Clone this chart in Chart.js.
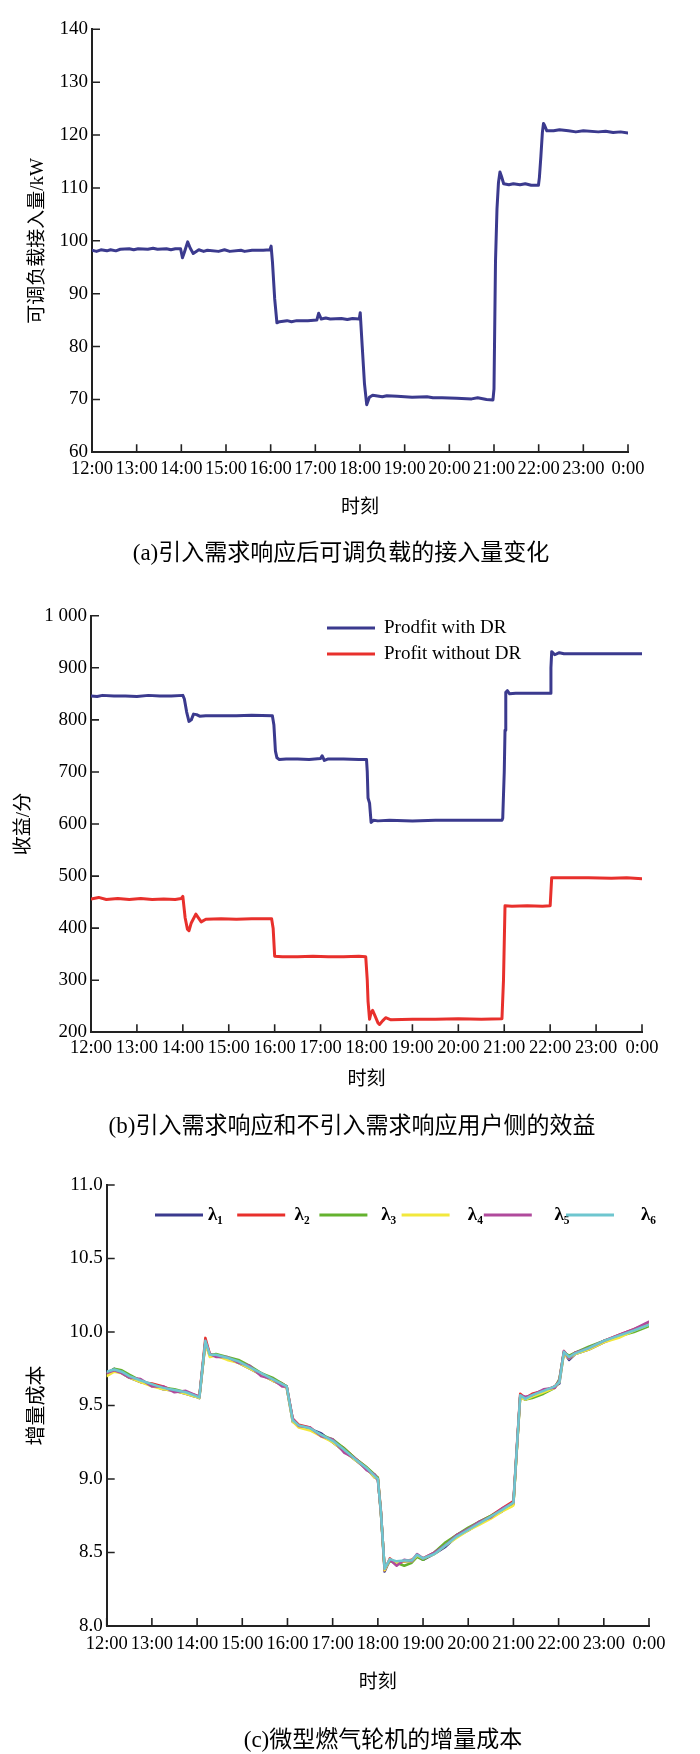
<!DOCTYPE html>
<html lang="zh-CN">
<head>
<meta charset="utf-8">
<title>需求响应仿真结果</title>
<script src="https://cdn.jsdelivr.net/npm/chart.js@4.4.1/dist/chart.umd.min.js"></script>
<style>
  body { margin: 0; background: #fff; }
  #page { position: relative; width: 700px; height: 1754px; background: #fff; }
  #page canvas { position: absolute; left: 0; }
  .caption {
    position: absolute; width: 600px; text-align: center; white-space: nowrap;
    font: 23px/30px "Liberation Serif", "Noto Sans CJK SC", serif; color: #000;
  }
</style>
</head>
<body>
<div id="page">
  <canvas id="loadChart" width="700" height="580" style="top:0"></canvas>
  <div class="caption" style="left:41px; top:538px">(a)引入需求响应后可调负载的接入量变化</div>
  <canvas id="profitChart" width="700" height="570" style="top:580px"></canvas>
  <div class="caption" style="left:52px; top:1111px">(b)引入需求响应和不引入需求响应用户侧的效益</div>
  <canvas id="costChart" width="700" height="604" style="top:1150px"></canvas>
  <div class="caption" style="left:83px; top:1725px">(c)微型燃气轮机的增量成本</div>
</div>

<script>
// x axis: minutes after 12:00
const hourLabels = ['12:00', '13:00', '14:00', '15:00', '16:00', '17:00', '18:00',
  '19:00', '20:00', '21:00', '22:00', '23:00', '0:00'];

const loadTicks = ['60', '70', '80', '90', '100', '110', '120', '130', '140'];
const profitTicks = ['200', '300', '400', '500', '600', '700', '800', '900', '1 000'];
const costTicks = ['8.0', '8.5', '9.0', '9.5', '10.0', '10.5', '11.0'];

// (a) adjustable load connected, [minute, kW]
const loadPoints = [
  [0, 98.2], [6, 98.0], [12, 98.3], [20, 98.1], [25, 98.3], [32, 98.1], [38, 98.4],
  [50, 98.5], [56, 98.3], [62, 98.5], [75, 98.4], [82, 98.6], [88, 98.4], [100, 98.5],
  [106, 98.3], [112, 98.5], [119, 98.5], [121.5, 96.8], [124, 97.8],
  [128.5, 99.8], [132, 98.6], [136, 97.6], [143.5, 98.3], [150, 98.0], [155, 98.2], [170, 98.0],
  [178, 98.3], [185, 98.0], [200, 98.2], [205, 98.0], [215, 98.2], [230, 98.2], [239, 98.3], [240.6, 99.0],
  [242.4, 96.0], [245.4, 89.0], [248.4, 84.5], [252, 84.7], [262, 84.9], [268, 84.7], [275, 84.9],
  [290, 84.9], [302, 85.0], [304.5, 86.3], [308, 85.2], [314, 85.4], [320, 85.2], [335, 85.3],
  [343, 85.1], [350, 85.3], [359, 85.2], [360.3, 86.4], [363, 80.0], [366, 73.0], [369, 69.0],
  [372.6, 70.4], [377, 70.8], [390, 70.5], [396, 70.7], [410, 70.6], [430, 70.4], [450, 70.5],
  [458, 70.3], [470, 70.3], [490, 70.2], [510, 70.1], [518, 70.3], [530, 70.0], [538.6, 69.9], [540, 72.0],
  [542, 96.0], [544, 106.0], [546, 111.0], [548, 113.0], [550, 112.2], [553, 110.8],
  [560, 110.6], [566, 110.8], [575, 110.6], [582, 110.8], [590, 110.5], [599.7, 110.5], [601, 112.0], [603, 116.0],
  [605, 120.5], [606.5, 122.2], [608, 121.8], [611, 120.8], [620, 120.8], [628, 121.0], [640, 120.8],
  [650, 120.6], [660, 120.8], [680, 120.6], [690, 120.7], [700, 120.5], [710, 120.6], [720, 120.4]
];

// (b) user side profit, [minute, value]
const profitWithDR = [
  [0, 846], [8, 845], [15, 847], [30, 846], [45, 846], [60, 845], [75, 847], [90, 846], [105, 846],
  [120, 847], [122, 840], [125, 815], [128, 797], [131, 800], [134, 811], [138, 810],
  [142, 807], [150, 808], [170, 808], [190, 808], [210, 809], [237, 808], [239, 790],
  [241, 740], [243, 727], [246, 724], [255, 725], [270, 725], [285, 724], [300, 726],
  [302, 731], [305, 722], [310, 725], [330, 725], [350, 724], [360, 724], [361, 700],
  [362, 650], [364, 640], [366, 603], [369, 607], [375, 606], [390, 607], [420, 606],
  [450, 607], [480, 607], [510, 607], [537, 607], [538, 611], [540, 700], [541, 780],
  [542, 853], [544, 856], [547, 850], [555, 851], [575, 851], [590, 851], [600, 851],
  [601, 900], [602, 931], [606, 925], [612, 929], [618, 927], [640, 927], [680, 927],
  [720, 927]
];
const profitWithoutDR = [
  [0, 456], [10, 459], [20, 455], [35, 457], [50, 455], [65, 457], [80, 455], [95, 456],
  [110, 455], [118, 457], [120, 461], [123, 420], [126, 398], [128, 395], [131, 410],
  [137, 427], [144, 412], [150, 417], [170, 418], [190, 417], [210, 418], [236, 418],
  [238, 400], [240, 346], [250, 345], [270, 345], [290, 346], [310, 345], [330, 345],
  [350, 346], [359, 345], [361, 300], [362, 260], [364, 225], [366, 238], [368, 242],
  [371, 232], [375, 218], [377, 215], [381, 222], [385, 228], [392, 224], [420, 225],
  [450, 225], [480, 226], [510, 225], [537, 226], [539, 300], [541, 443], [550, 442],
  [570, 443], [590, 442], [600, 443], [602, 497], [620, 497], [650, 497], [680, 496],
  [700, 497], [720, 495]
];

// (c) incremental cost of the micro turbines, shared time grid
const costTimes = [
  0, 10, 20, 30, 45, 60, 75, 90, 105, 118,
  123, 131, 137, 145, 160, 175, 190, 205, 220, 233,
  239, 247, 255, 270, 285, 300, 315, 330, 345, 356,
  360, 364, 369, 376, 385, 395, 405, 412, 420, 435,
  450, 465, 480, 495, 510, 525, 537, 540, 545, 549,
  556, 565, 580, 595, 601, 607, 614, 622, 640, 660,
  680, 700, 720
];
const lambda1 = [
  9.72, 9.75, 9.72, 9.69, 9.66, 9.64, 9.61, 9.60, 9.58, 9.56,
  9.55, 9.93, 9.84, 9.84, 9.82, 9.79, 9.75, 9.71, 9.67, 9.64,
  9.62, 9.39, 9.36, 9.34, 9.31, 9.25, 9.19, 9.13, 9.07, 9.01,
  9.00, 8.77, 8.37, 8.45, 8.43, 8.44, 8.44, 8.48, 8.45, 8.49,
  8.54, 8.61, 8.65, 8.70, 8.74, 8.78, 8.83, 8.83, 9.24, 9.56,
  9.54, 9.57, 9.59, 9.63, 9.65, 9.86, 9.81, 9.85, 9.88, 9.93,
  9.97, 10.01, 10.05
];
const lambda2 = [
  9.72, 9.74, 9.73, 9.70, 9.66, 9.65, 9.63, 9.60, 9.59, 9.57,
  9.56, 9.96, 9.85, 9.84, 9.82, 9.80, 9.76, 9.72, 9.68, 9.65,
  9.63, 9.41, 9.37, 9.35, 9.29, 9.26, 9.21, 9.14, 9.08, 9.02,
  9.01, 8.79, 8.38, 8.46, 8.42, 8.44, 8.45, 8.48, 8.46, 8.50,
  8.56, 8.62, 8.66, 8.71, 8.75, 8.80, 8.84, 8.85, 9.26, 9.58,
  9.55, 9.58, 9.60, 9.63, 9.67, 9.87, 9.83, 9.86, 9.89, 9.94,
  9.98, 10.02, 10.06
];
const lambda3 = [
  9.71, 9.75, 9.74, 9.71, 9.67, 9.64, 9.62, 9.61, 9.59, 9.56,
  9.56, 9.93, 9.84, 9.85, 9.83, 9.81, 9.77, 9.72, 9.69, 9.65,
  9.63, 9.40, 9.36, 9.34, 9.30, 9.27, 9.21, 9.14, 9.08, 9.03,
  9.01, 8.78, 8.39, 8.44, 8.43, 8.41, 8.43, 8.47, 8.45, 8.50,
  8.57, 8.62, 8.67, 8.71, 8.75, 8.79, 8.82, 8.83, 9.24, 9.56,
  9.54, 9.55, 9.58, 9.62, 9.68, 9.86, 9.84, 9.86, 9.90, 9.94,
  9.97, 10.00, 10.04
];
const lambda4 = [
  9.70, 9.73, 9.72, 9.69, 9.66, 9.63, 9.61, 9.60, 9.58, 9.56,
  9.55, 9.92, 9.83, 9.84, 9.81, 9.79, 9.75, 9.71, 9.67, 9.64,
  9.62, 9.39, 9.35, 9.33, 9.29, 9.25, 9.19, 9.13, 9.07, 9.01,
  9.00, 8.77, 8.38, 8.45, 8.43, 8.44, 8.44, 8.48, 8.46, 8.49,
  8.55, 8.60, 8.65, 8.69, 8.73, 8.78, 8.81, 8.82, 9.23, 9.55,
  9.54, 9.56, 9.59, 9.62, 9.66, 9.85, 9.82, 9.85, 9.88, 9.93,
  9.96, 10.01, 10.05
];
const lambda5 = [
  9.72, 9.74, 9.72, 9.69, 9.68, 9.63, 9.63, 9.59, 9.60, 9.57,
  9.56, 9.94, 9.85, 9.83, 9.83, 9.79, 9.77, 9.70, 9.68, 9.63,
  9.63, 9.41, 9.36, 9.35, 9.29, 9.27, 9.18, 9.14, 9.06, 9.03,
  8.99, 8.78, 8.39, 8.45, 8.41, 8.45, 8.44, 8.49, 8.46, 8.50,
  8.55, 8.62, 8.66, 8.71, 8.74, 8.80, 8.83, 8.84, 9.25, 9.57,
  9.56, 9.57, 9.61, 9.62, 9.67, 9.87, 9.82, 9.86, 9.89, 9.94,
  9.98, 10.02, 10.07
];
const lambda6 = [
  9.73, 9.745, 9.73, 9.70, 9.67, 9.645, 9.62, 9.605, 9.59, 9.565,
  9.555, 9.94, 9.845, 9.845, 9.825, 9.80, 9.76, 9.72, 9.68, 9.645,
  9.63, 9.40, 9.365, 9.345, 9.30, 9.26, 9.20, 9.135, 9.075, 9.02,
  9.00, 8.78, 8.39, 8.455, 8.44, 8.445, 8.445, 8.485, 8.46, 8.49,
  8.55, 8.61, 8.655, 8.70, 8.745, 8.79, 8.83, 8.84, 9.25, 9.57,
  9.545, 9.57, 9.60, 9.63, 9.66, 9.865, 9.83, 9.855, 9.89, 9.94,
  9.975, 10.01, 10.05
];

const lambdaNames = ['λ₁', 'λ₂', 'λ₃', 'λ₄', 'λ₅', 'λ₆'];
const lambdaColors = ['#3b3a8e', '#e8302c', '#64b22e', '#f2e83c', '#b04a9c', '#6ec6cf'];

Chart.defaults.font.family = '"Liberation Serif", "Noto Sans CJK SC", serif';
Chart.defaults.color = '#000';

// tick marks pointing into the plot, like the original figure
const insideTicks = {
  id: 'insideTicks',
  beforeDatasetsDraw(chart, args, opts) {
    const { ctx, chartArea, scales } = chart;
    ctx.save();
    ctx.strokeStyle = opts.color;
    ctx.lineWidth = opts.width;
    ctx.beginPath();
    scales.x.ticks.forEach((t, i) => {
      const px = scales.x.getPixelForTick(i);
      ctx.moveTo(px, chartArea.bottom);
      ctx.lineTo(px, chartArea.bottom - opts.length);
    });
    scales.y.ticks.forEach((t, i) => {
      const py = scales.y.getPixelForTick(i);
      ctx.moveTo(chartArea.left, py);
      ctx.lineTo(chartArea.left + opts.length, py);
    });
    ctx.stroke();
    ctx.restore();
  }
};

// legend drawn inside the plot area
const lineLegend = {
  id: 'lineLegend',
  afterDatasetsDraw(chart, args, opts) {
    if (!opts.x) return;
    const ctx = chart.ctx;
    ctx.save();
    ctx.font = opts.font;
    ctx.fillStyle = '#000';
    ctx.textBaseline = 'middle';
    chart.data.datasets.forEach((ds, i) => {
      const lx = opts.x + i * (opts.dx || 0);
      const ly = opts.y + i * (opts.dy || 0);
      ctx.strokeStyle = ds.borderColor;
      ctx.lineWidth = opts.lineWidth;
      ctx.beginPath();
      ctx.moveTo(lx, ly);
      ctx.lineTo(lx + opts.length, ly);
      ctx.stroke();
      ctx.fillText(ds.label, opts.labelX + i * (opts.labelDx || 0), ly);
    });
    ctx.restore();
  }
};

Chart.register(insideTicks, lineLegend);

function toXY(points) {
  return points.map(p => ({ x: p[0], y: p[1] }));
}

function timeChart(canvasId, datasets, cfg) {
  return new Chart(document.getElementById(canvasId), {
    type: 'line',
    data: { datasets: datasets },
    options: {
      responsive: false,
      animation: false,
      layout: { padding: { top: cfg.top, right: cfg.right, bottom: 0, left: 0 } },
      elements: {
        point: { radius: 0 },
        line: { tension: 0, borderJoinStyle: 'round', borderCapStyle: 'round' }
      },
      plugins: {
        legend: { display: false },
        tooltip: { enabled: false },
        insideTicks: { length: 8, color: '#222', width: 1.6 },
        lineLegend: cfg.legend || {}
      },
      scales: {
        x: {
          type: 'linear',
          min: 0,
          max: 720,
          grid: { display: false, drawTicks: false },
          border: { display: true, color: '#222', width: 2 },
          ticks: {
            stepSize: 60,
            autoSkip: false,
            maxRotation: 0,
            padding: cfg.xPad,
            font: { size: 18.5 },
            callback: (v) => hourLabels[Math.round(v / 60)]
          },
          title: { display: true, text: '时刻', font: { size: 19 }, padding: { top: 0, bottom: cfg.xTitlePad } },
          afterFit: (s) => { s.height = cfg.xHeight; }
        },
        y: {
          type: 'linear',
          min: cfg.yMin,
          max: cfg.yMax,
          grid: { display: false, drawTicks: false },
          border: { display: true, color: '#222', width: 2 },
          ticks: {
            stepSize: cfg.yStep,
            padding: 4,
            font: { size: 19 },
            callback: (v, i) => cfg.yLabels[i]
          },
          title: { display: true, text: cfg.yTitle, font: { size: cfg.yTitleSize }, padding: { top: cfg.yTitlePad, bottom: 0 } },
          afterFit: (s) => { s.width = cfg.yWidth; }
        }
      }
    }
  });
}

timeChart('loadChart', [{
  label: '可调负载接入量',
  data: toXY(loadPoints),
  borderColor: '#3b3a8e',
  borderWidth: 3
}], {
  top: 29.3, right: 72, yWidth: 92, xHeight: 127.7, xPad: 5.5, xTitlePad: 60.6,
  yMin: 60, yMax: 140, yStep: 10, yLabels: loadTicks,
  yTitle: '可调负载接入量/kW', yTitleSize: 19, yTitlePad: 26.6
});

timeChart('profitChart', [{
  label: 'Prodfit with DR',
  data: toXY(profitWithDR),
  borderColor: '#3b3a8e',
  borderWidth: 3
}, {
  label: 'Profit without DR',
  data: toXY(profitWithoutDR),
  borderColor: '#e8302c',
  borderWidth: 3
}], {
  top: 35.7, right: 58, yWidth: 91, xHeight: 117.7, xPad: 4.5, xTitlePad: 58.6,
  yMin: 200, yMax: 1000, yStep: 100, yLabels: profitTicks,
  yTitle: '收益/分', yTitleSize: 19, yTitlePad: 12.6,
  legend: { x: 327, y: 48, dy: 26, length: 48, lineWidth: 3, labelX: 384, font: '19px "Liberation Serif", serif' }
});

const lambdaSeries = [lambda1, lambda2, lambda3, lambda4, lambda5, lambda6];
timeChart('costChart', lambdaSeries.map((vals, i) => ({
  label: lambdaNames[i],
  data: costTimes.map((t, j) => ({ x: t, y: vals[j] })),
  borderColor: lambdaColors[i],
  borderWidth: 2.5,
  order: 6 - i
})), {
  top: 35, right: 51, yWidth: 106.7, xHeight: 128, xPad: 6.8, xTitlePad: 59.6,
  yMin: 8, yMax: 11, yStep: 0.5, yLabels: costTicks,
  yTitle: '增量成本', yTitleSize: 20, yTitlePad: 26,
  legend: { x: 155, dx: 82.2, y: 65, length: 48, lineWidth: 3, labelX: 208, labelDx: 86.6,
    font: 'bold 19px "Liberation Serif", "DejaVu Serif", serif' }
});
</script>
</body>
</html>
